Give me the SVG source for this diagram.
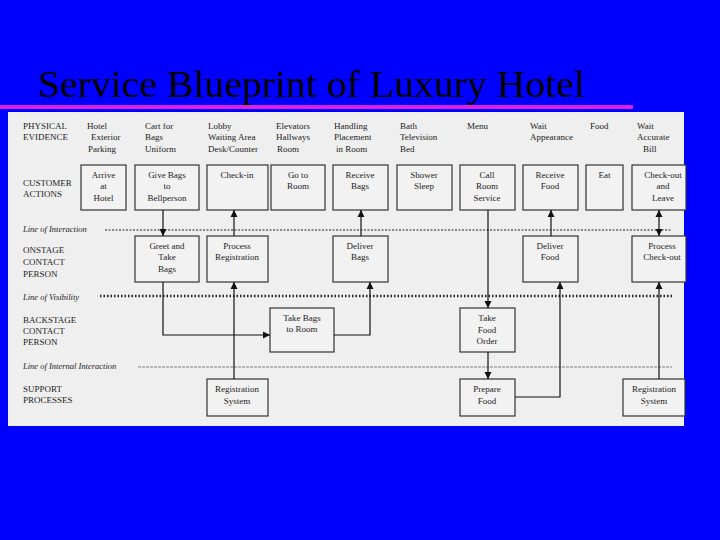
<svg xmlns="http://www.w3.org/2000/svg" width="720" height="540" viewBox="0 0 720 540">
<defs>
<marker id="ah" viewBox="0 0 10 10" refX="10" refY="5" markerWidth="6" markerHeight="6" orient="auto"><path d="M0,0L10,5L0,10z" fill="#111"/></marker>
<style>
.b{fill:#f2f2f2;stroke:#333;stroke-width:1.2}
.t{font-family:"Liberation Serif",serif;font-size:9px;fill:#222;text-anchor:middle}
.l{font-family:"Liberation Serif",serif;font-size:9px;fill:#222}
.i{font-family:"Liberation Serif",serif;font-size:8.5px;font-style:italic;fill:#222}
.c{stroke:#111;stroke-width:1.2;fill:none}
</style>
</defs>
<rect width="720" height="540" fill="#0000ff"/>
<text x="38" y="97" font-family="Liberation Serif,serif" font-size="38" fill="#000" textLength="547" lengthAdjust="spacingAndGlyphs">Service Blueprint of Luxury Hotel</text>
<rect x="0" y="105" width="633" height="4" fill="#e020e0"/>
<rect x="8" y="112" width="676" height="314" fill="#efefef"/>
<g id="labels">
<text class="l" x="23" y="129">PHYSICAL</text><text class="l" x="23" y="140">EVIDENCE</text>
<text class="l" x="23" y="186">CUSTOMER</text><text class="l" x="23" y="197">ACTIONS</text>
<text class="l" x="23" y="253">ONSTAGE</text><text class="l" x="23" y="265">CONTACT</text><text class="l" x="23" y="277">PERSON</text>
<text class="l" x="23" y="323">BACKSTAGE</text><text class="l" x="23" y="334">CONTACT</text><text class="l" x="23" y="345">PERSON</text>
<text class="l" x="23" y="392">SUPPORT</text><text class="l" x="23" y="403">PROCESSES</text>
<text class="i" x="23" y="232">Line of Interaction</text>
<text class="i" x="23" y="300">Line of Visibility</text>
<text class="i" x="23" y="369">Line of Internal Interaction</text>
</g>
<g id="evidence">
<text class="l" x="87" y="129">Hotel</text><text class="l" x="91" y="140">Exterior</text><text class="l" x="88" y="152">Parking</text>
<text class="l" x="145" y="129">Cart for</text><text class="l" x="145" y="140">Bags</text><text class="l" x="145" y="152">Uniform</text>
<text class="l" x="208" y="129">Lobby</text><text class="l" x="208" y="140">Waiting Area</text><text class="l" x="208" y="152">Desk/Counter</text>
<text class="l" x="276" y="129">Elevators</text><text class="l" x="276" y="140">Hallways</text><text class="l" x="277" y="152">Room</text>
<text class="l" x="334" y="129">Handling</text><text class="l" x="334" y="140">Placement</text><text class="l" x="336" y="152">in Room</text>
<text class="l" x="400" y="129">Bath</text><text class="l" x="400" y="140">Television</text><text class="l" x="400" y="152">Bed</text>
<text class="l" x="467" y="129">Menu</text>
<text class="l" x="530" y="129">Wait</text><text class="l" x="530" y="140">Appearance</text>
<text class="l" x="590" y="129">Food</text>
<text class="l" x="637" y="129">Wait</text><text class="l" x="637" y="140">Accurate</text><text class="l" x="643" y="152">Bill</text>
</g>
<g id="lines">
<line x1="105" y1="230" x2="672" y2="230" stroke="#222" stroke-width="1.2" stroke-dasharray="2,1.5"/>
<line x1="100" y1="296" x2="672" y2="296" stroke="#222" stroke-width="2.5" stroke-dasharray="1.5,2"/>
<line x1="138" y1="367" x2="672" y2="367" stroke="#555" stroke-width="0.7" stroke-dasharray="3,1"/>
</g>
<g id="n-arrive"><rect class="b" x="81" y="165" width="45" height="45"/><text class="t" x="103.5" y="178">Arrive</text><text class="t" x="103.5" y="189">at</text><text class="t" x="103.5" y="201">Hotel</text></g>
<g id="n-give"><rect class="b" x="135" y="165" width="64" height="45"/><text class="t" x="167" y="178">Give Bags</text><text class="t" x="167" y="189">to</text><text class="t" x="167" y="201">Bellperson</text></g>
<g id="n-checkin"><rect class="b" x="207" y="165" width="61" height="45"/><text class="t" x="237" y="178">Check-in</text></g>
<g id="n-goroom"><rect class="b" x="271" y="165" width="54" height="45"/><text class="t" x="298" y="178">Go to</text><text class="t" x="298" y="189">Room</text></g>
<g id="n-recbags"><rect class="b" x="333" y="165" width="55" height="45"/><text class="t" x="360" y="178">Receive</text><text class="t" x="360" y="189">Bags</text></g>
<g id="n-shower"><rect class="b" x="397" y="165" width="55" height="45"/><text class="t" x="424" y="178">Shower</text><text class="t" x="424" y="189">Sleep</text></g>
<g id="n-call"><rect class="b" x="460" y="165" width="55" height="45"/><text class="t" x="487" y="178">Call</text><text class="t" x="487" y="189">Room</text><text class="t" x="487" y="201">Service</text></g>
<g id="n-recfood"><rect class="b" x="523" y="165" width="55" height="45"/><text class="t" x="550" y="178">Receive</text><text class="t" x="550" y="189">Food</text></g>
<g id="n-eat"><rect class="b" x="586" y="165" width="37" height="45"/><text class="t" x="604.5" y="178">Eat</text></g>
<g id="n-checkout"><rect class="b" x="632" y="165" width="54" height="45"/><text class="t" x="663" y="178">Check-out</text><text class="t" x="663" y="189">and</text><text class="t" x="663" y="201">Leave</text></g>
<g id="n-greet"><rect class="b" x="135" y="236" width="64" height="46"/><text class="t" x="167" y="249">Greet and</text><text class="t" x="167" y="260">Take</text><text class="t" x="167" y="272">Bags</text></g>
<g id="n-procreg"><rect class="b" x="207" y="236" width="61" height="46"/><text class="t" x="237" y="249">Process</text><text class="t" x="237" y="260">Registration</text></g>
<g id="n-delbags"><rect class="b" x="333" y="236" width="55" height="46"/><text class="t" x="360" y="249">Deliver</text><text class="t" x="360" y="260">Bags</text></g>
<g id="n-delfood"><rect class="b" x="523" y="236" width="55" height="46"/><text class="t" x="550" y="249">Deliver</text><text class="t" x="550" y="260">Food</text></g>
<g id="n-proccheck"><rect class="b" x="632" y="236" width="54" height="46"/><text class="t" x="662" y="249">Process</text><text class="t" x="662" y="260">Check-out</text></g>
<g id="n-takebags"><rect class="b" x="270" y="308" width="64" height="44"/><text class="t" x="302" y="321">Take Bags</text><text class="t" x="302" y="332">to Room</text></g>
<g id="n-takefood"><rect class="b" x="460" y="308" width="55" height="44"/><text class="t" x="487" y="321">Take</text><text class="t" x="487" y="333">Food</text><text class="t" x="487" y="344">Order</text></g>
<g id="n-regsys1"><rect class="b" x="207" y="379" width="61" height="37"/><text class="t" x="237" y="392">Registration</text><text class="t" x="237" y="404">System</text></g>
<g id="n-prepare"><rect class="b" x="460" y="379" width="55" height="37"/><text class="t" x="487" y="392">Prepare</text><text class="t" x="487" y="404">Food</text></g>
<g id="n-regsys2"><rect class="b" x="623" y="379" width="62" height="37"/><text class="t" x="654" y="392">Registration</text><text class="t" x="654" y="404">System</text></g>
<g id="connectors">
<path class="c" d="M163,210V236" marker-end="url(#ah)"/>
<path class="c" d="M234,236V210" marker-end="url(#ah)"/>
<path class="c" d="M163,282V335H270" marker-end="url(#ah)"/>
<path class="c" d="M234,379V282" marker-end="url(#ah)"/>
<path class="c" d="M334,335H370V282" marker-end="url(#ah)"/>
<path class="c" d="M361,236V210" marker-end="url(#ah)"/>
<path class="c" d="M488,210V308" marker-end="url(#ah)"/>
<path class="c" d="M488,352V379" marker-end="url(#ah)"/>
<path class="c" d="M515,397H560V282" marker-end="url(#ah)"/>
<path class="c" d="M551,236V210" marker-end="url(#ah)"/>
<path class="c" d="M659,223V210" marker-end="url(#ah)"/>
<path class="c" d="M659,223V236" marker-end="url(#ah)"/>
<path class="c" d="M659,379V282" marker-end="url(#ah)"/>
</g>
</svg>
